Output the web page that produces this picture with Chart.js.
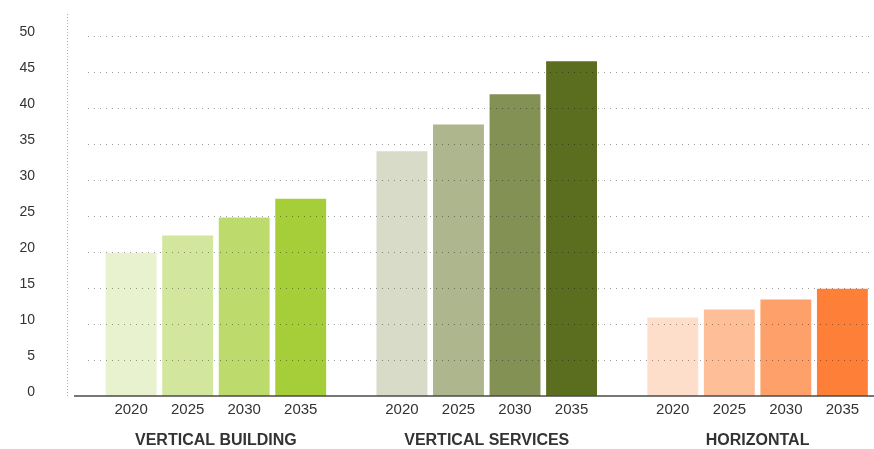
<!DOCTYPE html>
<html>
<head>
<meta charset="utf-8">
<script src="https://cdn.jsdelivr.net/npm/chart.js@4/dist/chart.umd.min.js"></script>
<style>
  html, body { margin: 0; padding: 0; background: #fff; overflow: hidden; }
  #wrap { width: 874px; height: 449px; overflow: hidden; }
</style>
</head>
<body>
<div id="wrap"><canvas id="myBarChart" width="893" height="449"></canvas></div>
<script>
var categories = ['VERTICAL BUILDING', 'VERTICAL SERVICES', 'HORIZONTAL'];
var years = ['2020', '2025', '2030', '2035'];
var verticalBuilding = [19.9, 22.3, 24.8, 27.4];
var verticalServices = [34.0, 37.7, 41.9, 46.5];
var horizontal = [10.9, 12.0, 13.4, 14.9];
var yMin = 0, yMax = 50, yStep = 5;

// colours per year, one for each category
var buildingColors = ['#e8f2cf', '#d3e69e', '#bddb6c', '#a6ce38'];
var servicesColors = ['#d7dbc7', '#adb68c', '#839155', '#5b6e20'];
var horizontalColors = ['#fddecb', '#fdbe98', '#fda069', '#fe8038'];

var fontFamily = '"Liberation Sans", Arial, Helvetica, sans-serif';

var datasets = [];
for (var i = 0; i < years.length; i++) {
  datasets.push({
    label: years[i],
    data: [verticalBuilding[i], verticalServices[i], horizontal[i]],
    backgroundColor: [buildingColors[i], servicesColors[i], horizontalColors[i]],
    borderWidth: 0,
    barPercentage: 0.9,
    categoryPercentage: 0.835
  });
}

var decorPlugin = {
  id: 'decor',
  beforeDatasetsDraw: function(chart) {
    var ctx = chart.ctx;
    var area = chart.chartArea;
    var y = chart.scales.y;
    ctx.save();
    // dotted vertical axis line
    ctx.strokeStyle = '#b0b0b0';
    ctx.lineWidth = 1;
    ctx.setLineDash([1, 2]);
    ctx.beginPath();
    ctx.moveTo(67.5, 14);
    ctx.lineTo(67.5, area.bottom);
    ctx.stroke();
    // y tick labels, slightly above their gridlines
    ctx.fillStyle = '#333';
    ctx.font = '14px ' + fontFamily;
    ctx.textAlign = 'right';
    ctx.textBaseline = 'middle';
    y.ticks.forEach(function(t) {
      ctx.fillText(String(t.value), 35, y.getPixelForValue(t.value) - 4);
    });
    ctx.restore();
  },
  afterDatasetsDraw: function(chart) {
    var ctx = chart.ctx;
    var area = chart.chartArea;
    var y = chart.scales.y;
    ctx.save();
    // dotted gridlines drawn over the bars
    ctx.strokeStyle = 'rgba(0,0,0,0.38)';
    ctx.lineWidth = 1;
    ctx.setLineDash([1, 5]);
    for (var v = yMin + yStep; v <= yMax; v += yStep) {
      var py = Math.round(y.getPixelForValue(v)) + 0.5;
      ctx.beginPath();
      ctx.moveTo(88, py);
      ctx.lineTo(area.right, py);
      ctx.stroke();
    }
    // solid baseline
    ctx.setLineDash([]);
    ctx.strokeStyle = '#4a4a4a';
    ctx.lineWidth = 1.5;
    var by = y.getPixelForValue(0);
    ctx.beginPath();
    ctx.moveTo(74, by);
    ctx.lineTo(area.right, by);
    ctx.stroke();

    // year labels under each bar
    ctx.fillStyle = '#333';
    ctx.font = '15px ' + fontFamily;
    ctx.textAlign = 'center';
    ctx.textBaseline = 'middle';
    for (var d = 0; d < chart.data.datasets.length; d++) {
      var meta = chart.getDatasetMeta(d);
      meta.data.forEach(function(bar) {
        ctx.fillText(chart.data.datasets[d].label, bar.x, by + 14);
      });
    }
    ctx.restore();
  }
};

var ctx = document.getElementById('myBarChart');
var barGraph = new Chart(ctx, {
  type: 'bar',
  data: {
    labels: categories,
    datasets: datasets
  },
  options: {
    responsive: false,
    animation: false,
    devicePixelRatio: 1,
    layout: { padding: { top: 36, left: 0, right: 0, bottom: 0 } },
    plugins: {
      legend: { display: false },
      tooltip: { enabled: false }
    },
    scales: {
      x: {
        grid: { display: false, drawTicks: false },
        border: { display: false },
        ticks: {
          color: '#333',
          padding: 35,
          maxRotation: 0,
          font: { family: fontFamily, size: 16, weight: 'bold' }
        },
        afterFit: function(scale) { scale.height = 53; }
      },
      y: {
        min: yMin,
        max: yMax,
        grid: { display: false, drawTicks: false },
        border: { display: false },
        ticks: { display: false, stepSize: yStep },
        afterFit: function(scale) { scale.width = 80.5; }
      }
    }
  },
  plugins: [decorPlugin]
});
</script>
</body>
</html>
